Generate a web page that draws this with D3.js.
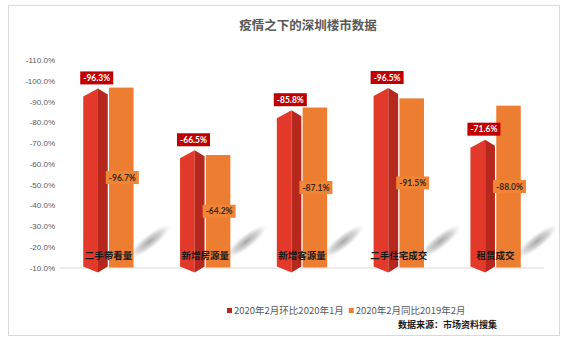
<!DOCTYPE html>
<html>
<head>
<meta charset="utf-8">
<script src="https://cdn.jsdelivr.net/npm/d3@7"></script>
<style>
  html, body { margin: 0; padding: 0; background: #fff; }
  svg { display: block; }
  text { font-family: Lato, "Noto Sans CJK SC", sans-serif; }
</style>
</head>
<body>
<svg id="chart" width="567" height="344"></svg>
<script>
const title = "疫情之下的深圳楼市数据";
const categories = ["二手带看量", "新增房源量", "新增客源量", "二手住宅成交", "租赁成交"];
const seriesNames = ["2020年2月环比2020年1月", "2020年2月同比2019年2月"];
const momValues = [-96.3, -66.5, -85.8, -96.5, -71.6];
const yoyValues = [-96.7, -64.2, -87.1, -91.5, -88.0];
const tickValues = [-10, -20, -30, -40, -50, -60, -70, -80, -90, -100, -110];
const sourceText = "数据来源：市场资料搜集";

const svg = d3.select("#chart");
const colors = { redL: "#e2392a", redR: "#b6271d", redLabel: "#c00000", orange: "#ed7d31", orangeLabel: "#f08536" };
const pct = v => v.toFixed(1) + "%";

// frame
svg.append("rect").attr("x", 8.5).attr("y", 5.5).attr("width", 551).attr("height", 330)
  .attr("fill", "#fff").attr("stroke", "#d9d9d9").attr("stroke-width", 1);

// radial gradient for soft shadows
const defs = svg.append("defs");
const rg = defs.append("radialGradient").attr("id", "shadowGrad");
rg.append("stop").attr("offset", "0%").attr("stop-color", "#8a8a8a").attr("stop-opacity", 0.75);
rg.append("stop").attr("offset", "55%").attr("stop-color", "#a0a0a0").attr("stop-opacity", 0.45);
rg.append("stop").attr("offset", "100%").attr("stop-color", "#c8c8c8").attr("stop-opacity", 0);

const y = d3.scaleLinear().domain([-10, -110]).range([267.5, 60]);
const x0 = d3.scaleBand().domain(categories).range([60, 544]).paddingInner(0.48).paddingOuter(0.24);
const x1 = d3.scaleBand().domain(["mom", "yoy"]).range([0, x0.bandwidth()]).paddingInner(0.05);

// title
svg.append("text").attr("x", 308).attr("y", 30).attr("text-anchor", "middle")
  .attr("font-size", 12.5).attr("font-weight", "bold").attr("fill", "#595959")
  .style("font-family", "'Noto Sans CJK SC', sans-serif").text(title);

// y axis
const yAxis = d3.axisLeft(y).tickValues(tickValues).tickSize(0).tickPadding(6)
  .tickFormat(pct);
const gy = svg.append("g").attr("transform", "translate(60,0)").call(yAxis);
gy.select(".domain").remove();
gy.selectAll("text").attr("font-size", 8).attr("fill", "#595959").attr("x", -5)
  .style("font-family", "'Liberation Sans Narrow', 'Liberation Sans', sans-serif");

// baseline
svg.append("line").attr("x1", 60).attr("x2", 544).attr("y1", y(-10) + 0.5).attr("y2", y(-10) + 0.5)
  .attr("stroke", "#d9d9d9").attr("stroke-width", 1);

const base = y(-10);
const groups = svg.append("g").selectAll("g").data(categories).join("g")
  .attr("transform", d => `translate(${x0(d)},0)`);

// shadows
groups.append("ellipse")
  .attr("transform", () => {
    const r = x1("yoy") + x1.bandwidth();
    return `translate(${r + 16},${base - 26}) rotate(-38)`;
  })
  .attr("rx", 26).attr("ry", 7)
  .attr("fill", "url(#shadowGrad)");

// red 3D bars and orange bars
groups.each(function (d, i) {
  const g = d3.select(this);
  const xl = x1("mom"), w = x1.bandwidth(), xr = xl + w;
  const xp = xl + w * 0.6;
  const top = y(momValues[i]);
  g.append("path")
    .attr("d", `M${xl},${top + 8} L${xp},${top} L${xp},${base + 5} L${xl},${base - 1} Z`)
    .attr("fill", colors.redL);
  g.append("path")
    .attr("d", `M${xp},${top} L${xr},${top + 6} L${xr},${base - 1} L${xp},${base + 5} Z`)
    .attr("fill", colors.redR);
  const ox = x1("yoy");
  const otop = y(yoyValues[i]);
  g.append("rect").attr("x", ox).attr("y", otop).attr("width", w).attr("height", base - otop)
    .attr("fill", colors.orange);
});

// category labels
groups.append("text")
  .attr("x", x0.bandwidth() / 2).attr("y", 259).attr("text-anchor", "middle")
  .attr("font-size", 9.5).attr("font-weight", "bold").attr("fill", "#1a1a1a")
  .style("font-family", "'Noto Sans CJK SC', sans-serif").text(d => d);

// red labels
groups.each(function (d, i) {
  const g = d3.select(this);
  const cx = x1("mom") + x1.bandwidth() * 0.55;
  const top = y(momValues[i]);
  const bw = 33, bh = 13;
  g.append("rect").attr("x", cx - bw / 2).attr("y", top - 4 - bh).attr("width", bw).attr("height", bh)
    .attr("fill", colors.redLabel);
  g.append("text").attr("x", cx).attr("y", top - 4 - bh / 2 + 3.2).attr("text-anchor", "middle")
    .attr("font-size", 8.5).attr("font-weight", "bold").attr("fill", "#fff")
    .text(pct(momValues[i]));
});

// orange labels
groups.each(function (d, i) {
  const g = d3.select(this);
  const cx = x1("yoy") + x1.bandwidth() / 2 + 1;
  const otop = y(yoyValues[i]);
  const cy = (otop + base) / 2;
  const bw = 33, bh = 13;
  g.append("rect").attr("x", cx - bw / 2).attr("y", cy - bh / 2).attr("width", bw).attr("height", bh)
    .attr("fill", colors.orangeLabel);
  g.append("text").attr("x", cx).attr("y", cy + 3.2).attr("text-anchor", "middle")
    .attr("font-size", 8.5).attr("font-weight", "bold").attr("fill", "#3a2a1a")
    .text(pct(yoyValues[i]));
});

// legend
const legend = svg.append("g").attr("transform", "translate(227,311)");
const legendColors = [colors.redR, colors.orange];
let lx = 0;
seriesNames.forEach((name, i) => {
  legend.append("rect").attr("x", lx).attr("y", -3).attr("width", 5).attr("height", 5).attr("fill", legendColors[i]);
  const t = legend.append("text").attr("x", lx + 7).attr("y", 3)
    .attr("font-size", 9.5).attr("fill", "#595959")
    .style("font-family", "'Noto Sans CJK SC', sans-serif").text(name);
  lx += 7 + t.node().getComputedTextLength() + 5;
});

// source
svg.append("text").attr("x", 497).attr("y", 327.5).attr("text-anchor", "end")
  .attr("font-size", 9).attr("font-weight", "bold").attr("fill", "#1a1a1a")
  .style("font-family", "'Noto Sans CJK SC', sans-serif").text(sourceText);
</script>
</body>
</html>
